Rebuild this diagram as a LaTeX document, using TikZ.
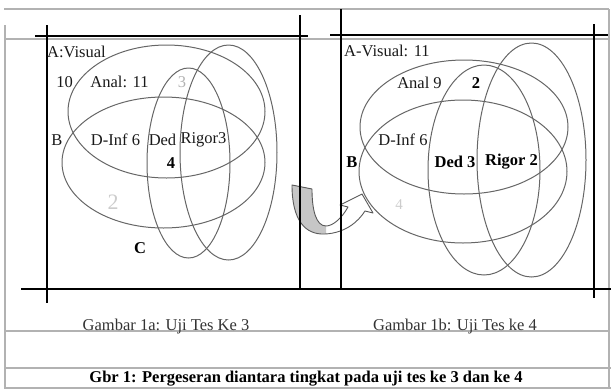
\documentclass[tikz,border=0pt]{standalone}
\usepackage{fontspec}
\setmainfont{Liberation Serif}
\newcommand\myarrowpath{(292,185) .. controls (292,220) and (305,235) .. (325,234) .. controls (345,233) and (358,222) .. (365,211) -- (373,213) -- (362,194) -- (340,205) -- (348,207) .. controls (342,218) and (333,226) .. (326,226) .. controls (316,226) and (312,210) .. (312,189) -- cycle}
\begin{document}
\begin{tikzpicture}[x=1pt,y=-1pt,
  tbl/.style={draw=gray!60, line width=1.2pt},
  frm/.style={draw=black, line width=1.8pt},
  ell/.style={draw=black!60, line width=1pt},
  lbl/.style={inner sep=0pt, font=\fontsize{16.5}{19}\selectfont, text=black!90},
  blbl/.style={inner sep=0pt, font=\fontsize{16.5}{19}\selectfont\bfseries, text=black},
]
\useasboundingbox (0,0) rectangle (611,389);
% table (gray) lines
\draw[tbl] (4,9) -- (609,9);
\draw[tbl] (609,9) -- (609,389);
\draw[tbl] (5,25) -- (5,389);
\draw[tbl] (5,39) -- (609,39);
\draw[tbl] (5,331) -- (609,331);
\draw[tbl] (5,368) -- (611,368);
\draw[tbl] (5,388) -- (611,388);
% left panel ellipses
\draw[ell] (166.5,111.5) ellipse [x radius=98.5pt, y radius=66.5pt];
\draw[ell] (163.5,162.5) ellipse [x radius=101.5pt, y radius=65.5pt];
\draw[ell] (188.5,163) ellipse [x radius=41.5pt, y radius=95pt];
\draw[ell] (228.5,152.5) ellipse [x radius=48.5pt, y radius=107.5pt];
% right panel ellipses
\draw[ell] (464,127) ellipse [x radius=104pt, y radius=67pt];
\draw[ell] (463,171.5) ellipse [x radius=104pt, y radius=71.5pt];
\draw[ell] (484,170) ellipse [x radius=56pt, y radius=105pt];
\draw[ell] (531.5,160) ellipse [x radius=54.5pt, y radius=117pt];
% curved arrow
\path[fill=white] \myarrowpath;
\begin{scope}
\clip (280,180) rectangle (326,240);
\fill[gray!45] \myarrowpath;
\end{scope}
\draw[black!65, line width=0.9pt, line join=round] \myarrowpath;
% black frame lines
\draw[frm] (35,36) -- (308,36);
\draw[frm] (330,35) -- (608,35);
\draw[frm] (47,25) -- (47,303);
\draw[frm] (300,15) -- (300,289);
\draw[frm] (341,9) -- (341,289);
\draw[frm] (594,24) -- (594,298);
\draw[frm] (21,289) -- (611,289);
% left labels
\node[lbl, anchor=west] (avis) at (47,52) {A:Visual};
\node[lbl] (n10) at (64.5,82) {10};
\node[lbl] (anal) at (119.5,82) {Anal: 11};
\node[lbl, text=gray!60] (n3) at (182,82) {3};
\node[lbl] (lb) at (57,140) {B};
\node[lbl] (dinf) at (115.5,140) {D-Inf 6};
\node[lbl] (ded) at (162.5,140) {Ded};
\node[lbl] (rig) at (203.5,140) {Rigor3};
\node[blbl] (n4) at (171,163) {4};
\node[inner sep=0pt, font=\fontsize{22}{24}\selectfont, text=gray!40] (n2) at (113,202) {2};
\node[blbl] (lc) at (140,248) {C};
% right labels
\node[lbl, anchor=west] (avisb) at (344,51) {A-Visual: 11};
\node[lbl] (analb) at (419.5,83) {Anal 9};
\node[blbl] (n2b) at (476,83) {2};
\node[lbl] (dinfb) at (403,140) {D-Inf 6};
\node[blbl] (lbb) at (352,162) {B};
\node[blbl] (dedb) at (455,162) {Ded 3};
\node[blbl] (rigb) at (511.5,162) {Rigor 2};
\node[inner sep=0pt, font=\fontsize{15}{17}\selectfont, text=gray!40] (n4b) at (399,205) {4};
% captions
\node[lbl, text=black!80] (capa) at (166,327) {Gambar 1a: Uji Tes Ke 3};
\node[lbl, text=black!80] (capb) at (455,327) {Gambar 1b: Uji Tes ke 4};
\node[blbl] (gbr) at (306,379) {Gbr 1: Pergeseran diantara tingkat pada uji tes ke 3 dan ke 4};
\end{tikzpicture}
\end{document}
